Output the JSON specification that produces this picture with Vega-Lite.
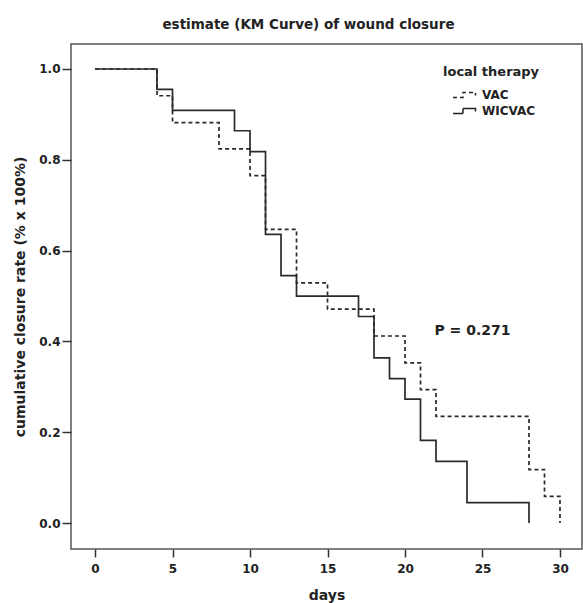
{
  "$schema": "https://vega.github.io/schema/vega-lite/v6.json",
  "width": 511,
  "height": 505,
  "autosize": "none",
  "padding": {"left": 71, "top": 44, "right": 1, "bottom": 54},
  "background": "white",
  "config": {"view": {"stroke": "#555555", "strokeWidth": 1.5}, "font": "DejaVu Sans"},
  "title": {"text": "estimate (KM Curve) of wound closure", "fontSize": 13.5, "fontWeight": "bold", "color": "#222222", "offset": 13, "dx": -18},
  "datasets": {
    "km": [
      {"therapy": "VAC", "day": 0, "rate": 1.0},
      {"therapy": "VAC", "day": 4, "rate": 0.941},
      {"therapy": "VAC", "day": 5, "rate": 0.882},
      {"therapy": "VAC", "day": 8, "rate": 0.824},
      {"therapy": "VAC", "day": 10, "rate": 0.765},
      {"therapy": "VAC", "day": 11, "rate": 0.647},
      {"therapy": "VAC", "day": 13, "rate": 0.529},
      {"therapy": "VAC", "day": 15, "rate": 0.471},
      {"therapy": "VAC", "day": 18, "rate": 0.412},
      {"therapy": "VAC", "day": 20, "rate": 0.353},
      {"therapy": "VAC", "day": 21, "rate": 0.294},
      {"therapy": "VAC", "day": 22, "rate": 0.235},
      {"therapy": "VAC", "day": 28, "rate": 0.118},
      {"therapy": "VAC", "day": 29, "rate": 0.059},
      {"therapy": "VAC", "day": 30, "rate": 0.0},
      {"therapy": "WICVAC", "day": 0, "rate": 1.0},
      {"therapy": "WICVAC", "day": 4, "rate": 0.955},
      {"therapy": "WICVAC", "day": 5, "rate": 0.909},
      {"therapy": "WICVAC", "day": 9, "rate": 0.864},
      {"therapy": "WICVAC", "day": 10, "rate": 0.818},
      {"therapy": "WICVAC", "day": 11, "rate": 0.636},
      {"therapy": "WICVAC", "day": 12, "rate": 0.545},
      {"therapy": "WICVAC", "day": 13, "rate": 0.5},
      {"therapy": "WICVAC", "day": 17, "rate": 0.455},
      {"therapy": "WICVAC", "day": 18, "rate": 0.364},
      {"therapy": "WICVAC", "day": 19, "rate": 0.318},
      {"therapy": "WICVAC", "day": 20, "rate": 0.273},
      {"therapy": "WICVAC", "day": 21, "rate": 0.182},
      {"therapy": "WICVAC", "day": 22, "rate": 0.136},
      {"therapy": "WICVAC", "day": 24, "rate": 0.045},
      {"therapy": "WICVAC", "day": 28, "rate": 0.0}
    ],
    "note": [{"label": "P = 0.271", "day": 21.9, "rate": 0.423}]
  },
  "layer": [
    {
      "data": {"name": "km"},
      "mark": {"type": "line", "interpolate": "step-after", "strokeWidth": 1.7, "color": "#2a2a2a"},
      "encoding": {
        "x": {
          "field": "day", "type": "quantitative",
          "scale": {"domain": [-1.55, 31.42], "nice": false, "zero": false},
          "axis": {"title": "days", "values": [0, 5, 10, 15, 20, 25, 30], "grid": false, "domain": false,
            "tickColor": "#333333", "tickSize": 8, "tickWidth": 1.5, "labelFontSize": 12, "labelFontWeight": "bold",
            "labelColor": "#222222", "labelPadding": 6, "titleFontSize": 14, "titleFontWeight": "bold", "titleColor": "#222222", "titlePadding": 14}
        },
        "y": {
          "field": "rate", "type": "quantitative",
          "scale": {"domain": [-0.057, 1.055], "nice": false, "zero": false},
          "axis": {"title": "cumulative closure rate (% x 100%)", "values": [0, 0.2, 0.4, 0.6, 0.8, 1.0], "format": ".1f", "grid": false, "domain": false,
            "tickColor": "#333333", "tickSize": 9, "tickWidth": 1.5, "labelFontSize": 12, "labelFontWeight": "bold",
            "labelColor": "#222222", "labelPadding": 2, "titleFontSize": 14, "titleFontWeight": "bold", "titleColor": "#222222", "titlePadding": 11}
        },
        "strokeDash": {
          "field": "therapy", "type": "nominal",
          "scale": {"domain": ["VAC", "WICVAC"], "range": [[4, 3], [1, 0]]},
          "legend": {"orient": "none", "legendX": 372, "legendY": 22, "title": "local therapy", "padding": 0,
            "titleFontSize": 13, "titleFontWeight": "bold", "titleColor": "#222222", "titlePadding": 10,
            "labelFontSize": 12, "labelFontWeight": "bold", "labelColor": "#222222", "labelOffset": 10,
            "symbolType": "M-2.6,0.5H-0.6V-0.5H1.9V0.1", "symbolSize": 100, "symbolOffset": 17,
            "symbolStrokeColor": "#222222", "symbolStrokeWidth": 1.5, "symbolFillColor": "transparent", "rowPadding": 4}
        }
      }
    },
    {
      "data": {"name": "note"},
      "mark": {"type": "text", "align": "left", "baseline": "middle", "fontSize": 14, "fontWeight": "bold", "color": "#222222"},
      "encoding": {
        "x": {"field": "day", "type": "quantitative"},
        "y": {"field": "rate", "type": "quantitative"},
        "text": {"field": "label"}
      }
    }
  ]
}
